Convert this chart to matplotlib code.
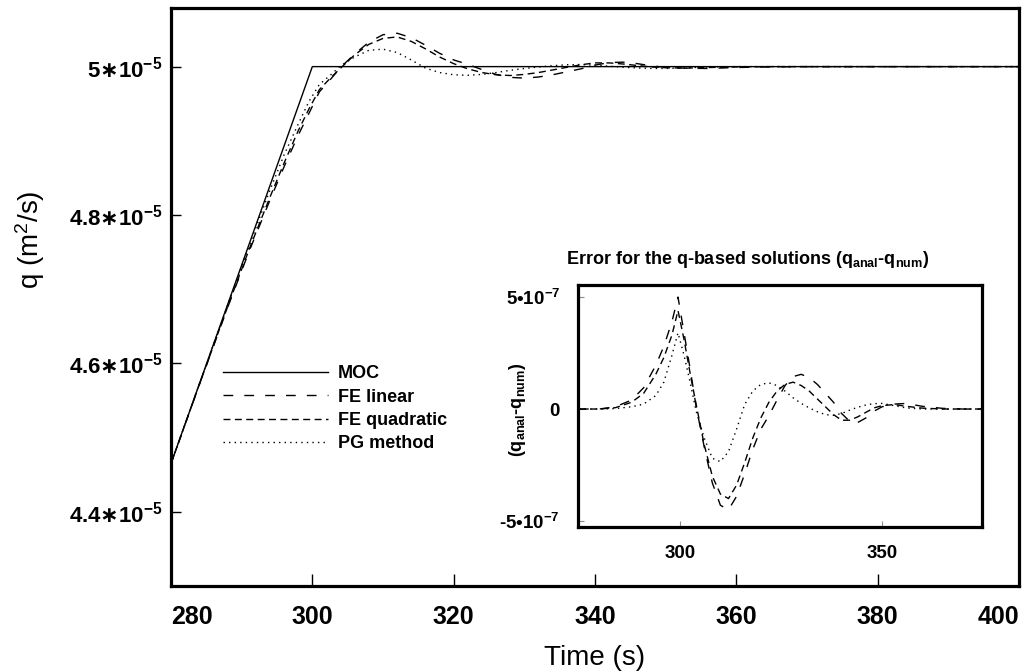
import matplotlib
matplotlib.use('Agg')
import matplotlib.pyplot as plt

plt.rcParams.update({
    'font.family': ['Liberation Sans', 'DejaVu Sans'],
    'mathtext.fontset': 'custom',
    'mathtext.rm': 'Liberation Sans:bold',
    'mathtext.it': 'Liberation Sans:bold',
    'mathtext.bf': 'Liberation Sans:bold',
    'mathtext.sf': 'Liberation Sans:bold',
    'mathtext.cal': 'DejaVu Sans:bold',
    'mathtext.default': 'rm',
    'mathtext.fallback': 'stixsans',
})

# ---------------- data: main plot (q in units of 1e-5 m^2/s) ----------------
moc_t = [280, 300, 400]
moc_q = [4.465, 5.0, 5.0]

t_main = [280, 284, 288, 291, 294, 296, 298, 299.5, 301, 302.5, 304, 306, 308, 310,
          312, 314, 316, 318, 320, 322, 324, 326, 328, 330, 332, 334, 336, 338, 340,
          342, 344, 346, 348, 350, 353, 356, 360, 365, 370, 380, 390, 400]
fe_linear_q = [4.465, 4.571, 4.675, 4.7498, 4.820, 4.865, 4.9075, 4.9366, 4.966, 4.982,
               4.999, 5.017, 5.033, 5.043, 5.045, 5.039, 5.029, 5.018, 5.009, 5.003,
               4.996, 4.9895, 4.9855, 4.9845, 4.986, 4.989, 4.993, 4.997, 5.002, 5.0055,
               5.006, 5.004, 5.001, 4.999, 4.9978, 4.9975, 4.9988, 4.9997, 5.0, 5.0, 5.0, 5.0]
fe_quad_q = [4.465, 4.5714, 4.676, 4.7523, 4.824, 4.870, 4.9135, 4.9426, 4.969, 4.984,
             4.998, 5.016, 5.030, 5.038, 5.040, 5.034, 5.024, 5.013, 5.004, 4.997,
             4.992, 4.989, 4.988, 4.9895, 4.992, 4.9955, 4.999, 5.0025, 5.005, 5.005,
             5.0035, 5.0015, 4.9995, 4.9985, 4.998, 4.9988, 4.9996, 5.0, 5.0, 5.0, 5.0, 5.0]
pg_q = [4.465, 4.5718, 4.678, 4.7571, 4.8335, 4.881, 4.9225, 4.9526, 4.976, 4.988,
        5.001, 5.013, 5.022, 5.0235, 5.019, 5.009, 4.998, 4.992, 4.989, 4.9883,
        4.9895, 4.992, 4.995, 4.9975, 4.9995, 5.0012, 5.0025, 5.0028, 5.002, 5.0005,
        4.9992, 4.9982, 4.9976, 4.9975, 4.9985, 4.9995, 5.0, 5.0, 5.0, 5.0, 5.0, 5.0]

x_ticks = [280, 300, 320, 340, 360, 380, 400]
x_tick_labels = ['280', '300', '320', '340', '360', '380', '400']
y_ticks = [4.4, 4.6, 4.8, 5.0]
y_tick_labels = [r'$4.4\mathcal{∗}10^{-5}$', r'$4.6\mathcal{∗}10^{-5}$',
                 r'$4.8\mathcal{∗}10^{-5}$', r'$5\mathcal{∗}10^{-5}$']
legend_labels = ['MOC', 'FE linear', 'FE quadratic', 'PG method']

# ---------------- data: inset error (units of 1e-7) ----------------
t_err = [275, 280, 284, 288, 291, 294, 296, 298, 299.5, 301, 302.5, 304, 306, 308, 310,
         312, 314, 316, 318, 320, 322, 324, 326, 328, 330, 332, 334, 336, 338, 340,
         342, 344, 346, 348, 350, 353, 356, 360, 365, 370, 375]
err_fe_linear = [0, 0, 0.1, 0.4, 0.95, 1.95, 2.8, 3.9, 5.0, 3.4, 1.8, 0.1, -1.7, -3.3, -4.3,
                 -4.5, -3.9, -2.9, -1.8, -0.9, -0.3, 0.4, 1.05, 1.45, 1.55, 1.4, 1.1, 0.7, 0.3, -0.2,
                 -0.55, -0.6, -0.4, -0.1, 0.1, 0.22, 0.25, 0.12, 0.03, 0, 0]
err_fe_quad = [0, 0, 0.06, 0.3, 0.7, 1.55, 2.3, 3.3, 4.4, 3.1, 1.6, 0.2, -1.6, -3.0, -3.8,
               -4.0, -3.4, -2.4, -1.3, -0.4, 0.3, 0.8, 1.1, 1.2, 1.05, 0.8, 0.45, 0.1, -0.25, -0.5,
               -0.5, -0.35, -0.15, 0.05, 0.15, 0.2, 0.12, 0.04, 0, 0, 0]
err_pg = [0, 0, 0.02, 0.1, 0.22, 0.6, 1.2, 2.4, 3.4, 2.4, 1.2, -0.1, -1.3, -2.2, -2.35,
          -1.9, -0.9, 0.2, 0.8, 1.1, 1.17, 1.05, 0.8, 0.5, 0.25, 0.05, -0.12, -0.25, -0.28, -0.2,
          -0.05, 0.08, 0.18, 0.24, 0.25, 0.15, 0.05, 0, 0, 0, 0]
inset_x_ticks = [300, 350]
inset_x_tick_labels = ['300', '350']
inset_y_ticks = [-5, 0, 5]
inset_y_tick_labels = ['-5•10$^{-7}$', '0', '5•10$^{-7}$']

Q_UNIT = 1e-5
E_UNIT = 1e-7

ls_linear = (0, (7, 8))
ls_quad = (0, (5, 3.2))
ls_pg = (0, (1, 3))

W, H = 1024, 672
fig = plt.figure(figsize=(W / 100, H / 100), dpi=100)

# ---------------- main axes ----------------
ax = fig.add_axes([171 / W, (H - 586) / H, (1019 - 171) / W, (586 - 8) / H])
ax.plot(moc_t, [v * Q_UNIT for v in moc_q], color='black', lw=1.0, label=legend_labels[0])
ax.plot(t_main, [v * Q_UNIT for v in fe_linear_q], color='black', lw=1.0, ls=ls_linear,
        label=legend_labels[1])
ax.plot(t_main, [v * Q_UNIT for v in fe_quad_q], color='black', lw=1.0, ls=ls_quad,
        label=legend_labels[2])
ax.plot(t_main, [v * Q_UNIT for v in pg_q], color='black', lw=1.0, ls=ls_pg,
        label=legend_labels[3])

ax.set_xlim(280, 400)
ax.set_ylim(4.300e-5, 5.079e-5)
ax.set_xticks(x_ticks)
ax.set_xticklabels(x_tick_labels, fontsize=18, fontweight='bold')
xl = ax.get_xticklabels()
xl[0].set_ha('left')
xl[-1].set_ha('right')
ax.set_yticks([v * Q_UNIT for v in y_ticks])
ax.set_yticklabels(y_tick_labels, fontsize=16, fontweight='bold')
ax.tick_params(axis='x', direction='in', length=9, width=1.0, pad=14, top=False)
ax.tick_params(axis='y', direction='in', length=7, width=1.0, pad=6, right=False)
for s in ax.spines.values():
    s.set_linewidth(2.3)

ax.set_xlabel('Time (s)', fontsize=20, labelpad=11)
fig.text(30 / W, 1 - 240 / H, 'q (m$^{\\mathregular{2}}$/s)', rotation=90, fontsize=20,
         ha='center', va='center')

leg = ax.legend(loc='upper left', bbox_to_anchor=(223 / W, 1 - 365 / H),
                bbox_transform=fig.transFigure, frameon=False, borderpad=0,
                borderaxespad=0, handlelength=5.8, handletextpad=0.55,
                labelspacing=0.36, prop={'size': 13, 'weight': 'bold'})

# ---------------- inset axes ----------------
axi = fig.add_axes([578 / W, (H - 527) / H, (982 - 578) / W, (527 - 285) / H])
axi.plot(t_err, [v * E_UNIT for v in err_fe_linear], color='black', lw=1.0, ls=ls_linear)
axi.plot(t_err, [v * E_UNIT for v in err_fe_quad], color='black', lw=1.0, ls=ls_quad)
axi.plot(t_err, [v * E_UNIT for v in err_pg], color='black', lw=1.0, ls=ls_pg)
axi.set_xlim(274.75, 374.75)
axi.set_ylim(-5.27e-7, 5.54e-7)
axi.set_xticks(inset_x_ticks)
axi.set_xticklabels(inset_x_tick_labels, fontsize=13.5, fontweight='bold')
axi.set_yticks([v * E_UNIT for v in inset_y_ticks])
axi.set_yticklabels(inset_y_tick_labels, fontsize=13.5, fontweight='bold')
axi.tick_params(axis='both', direction='in', length=4, width=0.8, color='0.55',
                pad=13)
for s in axi.spines.values():
    s.set_linewidth(2.3)

fig.text(748 / W, 1 - 260 / H,
         r'Error for the q-based solutions (q$_{anal}$-q$_{num}$)',
         fontsize=13, fontweight='bold', ha='center', va='center')
fig.text(517 / W, 1 - 410 / H, r'(q$_{anal}$-q$_{num}$)', rotation=90,
         fontsize=13, fontweight='bold', ha='center', va='center')

fig.savefig('out.png', dpi=100)
